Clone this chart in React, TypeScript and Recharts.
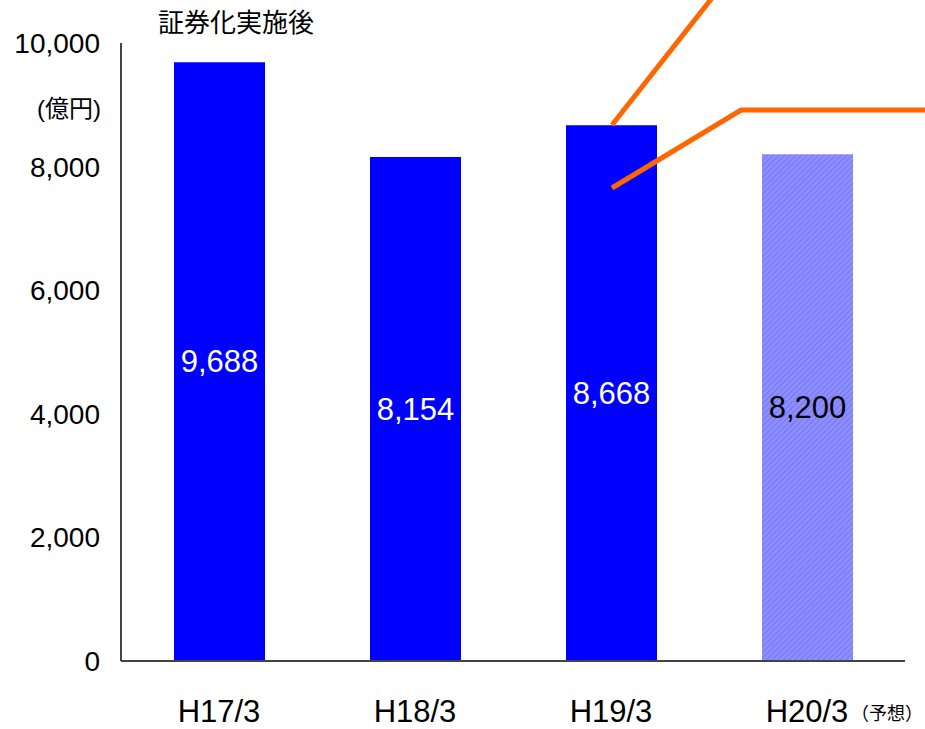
import { BarChart, Bar, XAxis, YAxis, Cell, LabelList } from "recharts";

const categories = ["H17/3", "H18/3", "H19/3", "H20/3"];
const notes = ["", "", "", "（予想）"];
const amounts = [9688, 8154, 8668, 8200];
const forecast = [false, false, false, true];
const yTicks = [0, 2000, 4000, 6000, 8000, 10000];

const data = categories.map((name, i) => ({
  name,
  note: notes[i],
  value: amounts[i],
  forecast: forecast[i],
}));

const FONT = '"Liberation Sans", Arial, "Noto Sans CJK JP", sans-serif';
const JP_FONT = '"Noto Sans CJK JP", sans-serif';

function CategoryTick(props: any) {
  const { x, y, index } = props;
  const note = notes[index];
  return (
    <g>
      <text x={x} y={y + 59} textAnchor="middle" fontSize={31} fontFamily={FONT} fill="#000">
        {categories[index]}
      </text>
      {note && (
        <text x={x + 44} y={y + 57} textAnchor="start" fontSize={18} fontFamily={JP_FONT} fill="#000">
          {note}
        </text>
      )}
    </g>
  );
}

function ValueLabel(props: any) {
  const { x, y, width, height, value, index } = props;
  return (
    <text
      x={x + width / 2}
      y={y + height / 2}
      textAnchor="middle"
      dominantBaseline="central"
      fontSize={31}
      fontFamily={FONT}
      fill={forecast[index] ? "#000" : "#fff"}
    >
      {Number(value).toLocaleString("en-US")}
    </text>
  );
}

export default function App() {
  return (
    <div style={{ position: "absolute", left: 0, top: 0, width: 925, height: 729, background: "#fff" }}>
      <BarChart
        width={925}
        height={729}
        data={data}
        margin={{ top: 43, right: 20, bottom: 0, left: 0 }}
        barSize={91}
      >
        <defs>
          <pattern id="hatch" width="4" height="4" patternUnits="userSpaceOnUse" patternTransform="rotate(45)">
            <rect width="4" height="4" fill="#8e8eff" />
            <line x1="0" y1="0" x2="0" y2="4" stroke="#6c6cf6" strokeWidth="1.5" />
          </pattern>
        </defs>
        <XAxis
          dataKey="name"
          height={68}
          axisLine={{ stroke: "#444", strokeWidth: 2 }}
          tickLine={false}
          tickSize={0}
          interval={0}
          tick={<CategoryTick />}
        />
        <YAxis
          width={121}
          domain={[0, 10000]}
          ticks={yTicks}
          axisLine={{ stroke: "#444", strokeWidth: 2 }}
          tickLine={false}
          tickSize={0}
          tickMargin={21}
          tick={{ fontSize: 28, fontFamily: FONT, fill: "#000" }}
          tickFormatter={(v: number) => v.toLocaleString("en-US")}
        />
        <Bar dataKey="value" isAnimationActive={false}>
          {data.map((d, i) => (
            <Cell key={`c-${i}`} fill={d.forecast ? "url(#hatch)" : "#0000ff"} />
          ))}
          <LabelList dataKey="value" content={<ValueLabel />} />
        </Bar>
      </BarChart>
      <svg
        width={925}
        height={729}
        style={{ position: "absolute", left: 0, top: 0, pointerEvents: "none" }}
      >
        <text x={158} y={32} fontSize={26} fontFamily={JP_FONT} fill="#000">
          証券化実施後
        </text>
        <text x={37} y={117} fontSize={24} fontFamily={FONT} fill="#000">
          (億円)
        </text>
        <polyline points="612,125 712,-2" fill="none" stroke="#ff6600" strokeWidth={5} />
        <polyline points="612,188 741,110 925,110" fill="none" stroke="#ff6600" strokeWidth={5} />
      </svg>
    </div>
  );
}
